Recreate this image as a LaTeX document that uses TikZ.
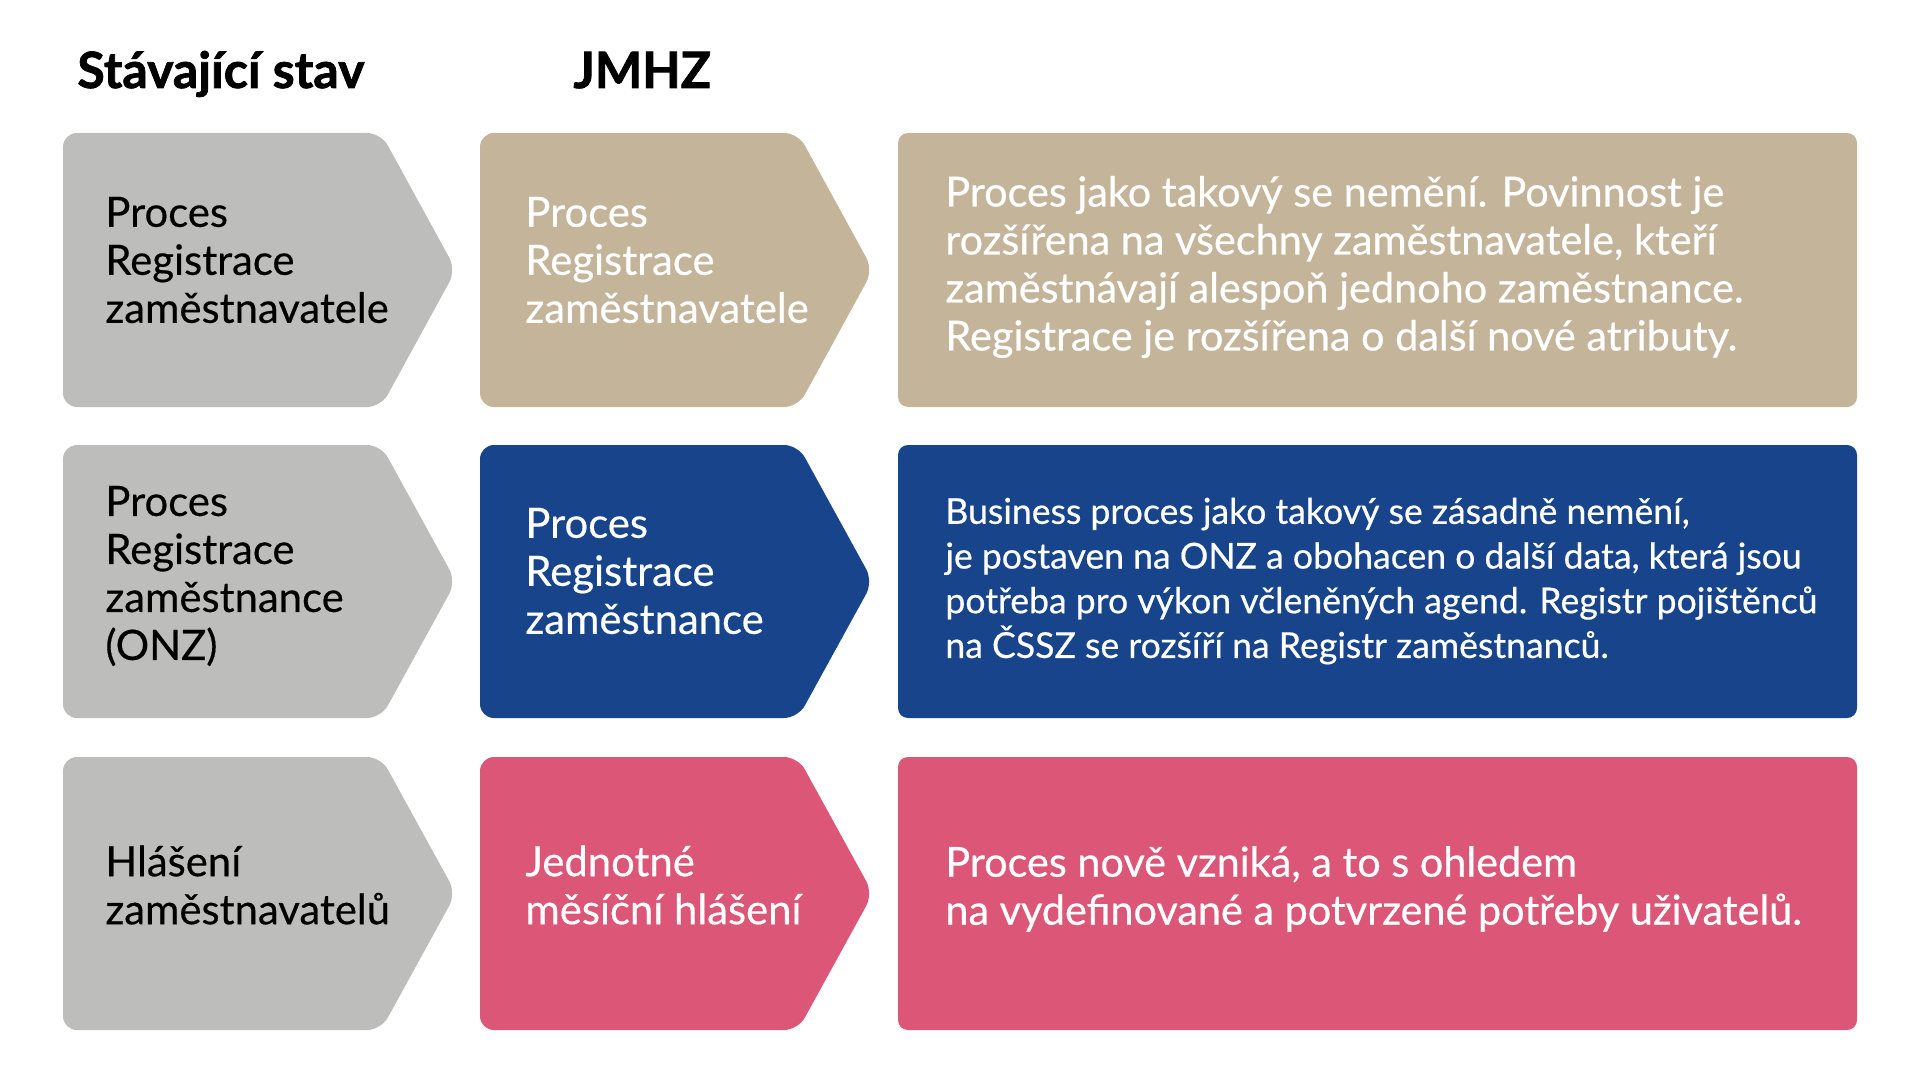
\documentclass[tikz,border=0pt]{standalone}
\usepackage{fontspec}
\setmainfont[FakeBold=0.4]{Lato}
\newfontfamily\descfont[FakeBold=0.5]{Lato}
\newfontfamily\headfont[FakeBold=1.5]{Lato}
\usetikzlibrary{positioning}

\definecolor{stavgray}{RGB}{189,190,187}
\definecolor{jmhztan}{RGB}{196,180,154}
\definecolor{jmhzblue}{RGB}{23,68,138}
\definecolor{jmhzpink}{RGB}{219,86,119}

\begin{document}
\begin{tikzpicture}[x=0.5pt,y=-0.5pt,
    heading/.style={anchor=base west,inner sep=0pt,font=\headfont\bfseries\fontsize{25}{28}\selectfont},
    chevtext/.style={anchor=west,align=left,inner sep=0pt,font=\fontsize{20.9}{24}\selectfont},
    desctext/.style={anchor=west,align=left,inner sep=0pt,text=white,font=\descfont\fontsize{20.7}{24}\selectfont},
    smalldesc/.style={desctext,font=\descfont\fontsize{17.8}{22.35}\selectfont}]
    \useasboundingbox (0,0) rectangle (1920,1080);

    % --- Nadpisy
    \node[heading] (stav) at (77,88) {Stávající stav};
    \node[heading] (jmhz) at (573,88) {JMHZ};

    % --- Registrace zaměstnavatele
    \fill[stavgray,rounded corners=7pt] (63,133) -- (381,133) -- (456,270) -- (381,407) -- (63,407) -- cycle;
    \fill[jmhztan,rounded corners=7pt] (480,133) -- (798,133) -- (873,270) -- (798,407) -- (480,407) -- cycle;
    \fill[jmhztan,rounded corners=5pt] (898,133) rectangle (1857,407);
    \node[chevtext] (zamavatel) at (105,260) {Proces\\Registrace\\zaměstnavatele};
    \node[chevtext,text=white] (zamavateljm) at (525,260) {Proces\\Registrace\\zaměstnavatele};
    \node[desctext] (zamavateldesc) at (945,267) {Proces jako takový se nemění. Povinnost je\\
      rozšířena na všechny zaměstnavatele, kteří\\
      zaměstnávají alespoň jednoho zaměstnance.\\
      Registrace je rozšířena o další nové atributy.};

    % --- Registrace zaměstnance
    \fill[stavgray,rounded corners=7pt] (63,445) -- (381,445) -- (456,581.5) -- (381,718) -- (63,718) -- cycle;
    \fill[jmhzblue,rounded corners=7pt] (480,445) -- (798,445) -- (873,581.5) -- (798,718) -- (480,718) -- cycle;
    \fill[jmhzblue,rounded corners=5pt] (898,445) rectangle (1857,718);
    \node[chevtext] (zamanec) at (105,576) {Proces\\Registrace\\zaměstnance\\(ONZ)};
    \node[chevtext,text=white] (zamanecjm) at (525,571) {Proces\\Registrace\\zaměstnance};
    \node[smalldesc] (zamanecdesc) at (945,581) {Business proces jako takový se zásadně nemění,\\
      je postaven na ONZ a obohacen o další data, která jsou\\
      potřeba pro výkon včleněných agend. Registr pojištěnců\\
      na ČSSZ se rozšíří na Registr zaměstnanců.};

    % --- Hlášení
    \fill[stavgray,rounded corners=7pt] (63,757) -- (381,757) -- (456,893.5) -- (381,1030) -- (63,1030) -- cycle;
    \fill[jmhzpink,rounded corners=7pt] (480,757) -- (798,757) -- (873,893.5) -- (798,1030) -- (480,1030) -- cycle;
    \fill[jmhzpink,rounded corners=5pt] (898,757) rectangle (1857,1030);
    \node[chevtext] (hlaseni) at (105,885) {Hlášení\\zaměstnavatelů};
    \node[chevtext,text=white] (hlasenijm) at (525,885) {Jednotné\\měsíční hlášení};
    \node[desctext] (hlasenidesc) at (945,889) {Proces nově vzniká, a to s ohledem\\
      na vydefinované a potvrzené potřeby uživatelů.};
  \end{tikzpicture}
\end{document}
